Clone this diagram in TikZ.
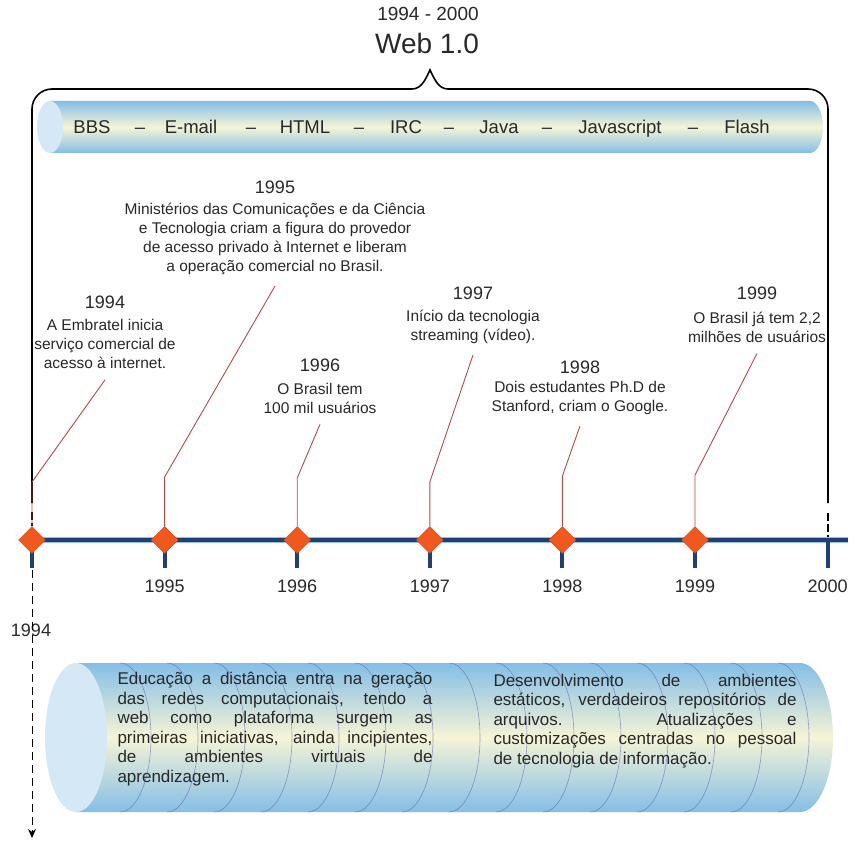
\documentclass[tikz,border=0pt]{standalone}
\usepackage{fontspec}
\setmainfont{Liberation Sans}
\usetikzlibrary{shapes.geometric,arrows.meta}
\definecolor{navy}{RGB}{31,63,119}
\definecolor{axisedge}{RGB}{150,190,228}
\definecolor{markorange}{RGB}{240,88,30}
\definecolor{leadred}{RGB}{185,72,72}
\definecolor{pipeblue}{RGB}{132,190,230}
\definecolor{pipecream}{RGB}{246,244,214}
\definecolor{pipecap}{RGB}{212,232,245}
\definecolor{txt}{RGB}{40,40,40}
\tolerance=10000
\begin{document}
\begin{tikzpicture}[x=1pt,y=-1pt,
  yearlbl/.style={text=txt,font=\fontsize{18}{21}\selectfont,inner sep=0pt},
  evtext/.style={text=txt,font=\fontsize{15.5}{19}\selectfont,align=center,inner sep=0pt},
  bartext/.style={text=txt,font=\fontsize{18.5}{22}\selectfont,inner sep=0pt,anchor=base},
  cyltext/.style={text=txt,font=\fontsize{17}{19.5}\selectfont,align=justify,inner sep=0pt},
  yearmark/.style={diamond,fill=markorange,draw=markorange!85!black,minimum size=27pt,inner sep=0pt},
  leader/.style={draw=leadred,line width=0.9pt},
  yeartick/.style={navy,line width=4pt},
  ring/.style={draw=gray!70!blue,opacity=0.55,line width=0.6pt},
  pipe/.style={top color=pipeblue,bottom color=pipeblue,middle color=pipecream}]
  \useasboundingbox (0,0) rectangle (848,850);

  % header and brace
  \node[text=txt,font=\fontsize{19}{22}\selectfont] (period) at (428,14) {1994 - 2000};
  \node[text=txt,font=\fontsize{28}{32}\selectfont] (web) at (427,43) {Web 1.0};
  \draw[line width=1.6pt] (32,503) -- (32,109) arc[start angle=180,end angle=270,radius=20] -- (412,89)
    .. controls (422,89) and (426,78) .. (430,70) .. controls (434,78) and (438,89) .. (448,89)
    -- (808,89) arc[start angle=-90,end angle=0,radius=20] -- (828,503);
  \draw[line width=1.4pt,dash pattern=on 8pt off 3pt] (32,512) -- (32,526);
  \draw[line width=1.4pt,dash pattern=on 8pt off 3pt] (828,513) -- (828,540);

  % technologies bar
  \shade[pipe] (50,101) -- (810,101) arc[start angle=-90,end angle=90,x radius=13,y radius=26] -- (50,153) -- cycle;
  \fill[pipecap] (50,127) ellipse[x radius=13,y radius=26];
  \foreach \x/\w [count=\i] in {92/BBS,140/–,191/E-mail,251/–,305/HTML,359/–,406/IRC,449/–,499/Java,547/–,620/Javascript,693/–,747/Flash}
    \node[bartext] (item\i) at (\x,133.5) {\w};

  % events
  \node[yearlbl] (y1994) at (105,302) {1994};
  \node[evtext] (t1994) at (105,344) {A Embratel inicia\\serviço comercial de\\acesso à internet.};
  \node[yearlbl] (y1995) at (275,187) {1995};
  \node[evtext] (t1995) at (275,239) {Ministérios das Comunicações e da Ciência\\e Tecnologia criam a figura do provedor\\de acesso privado à Internet e liberam\\a operação comercial no Brasil.};
  \node[yearlbl] (y1996) at (320,365) {1996};
  \node[evtext] (t1996) at (320,398) {O Brasil tem\\100 mil usuários};
  \node[yearlbl] (y1997) at (473,293) {1997};
  \node[evtext] (t1997) at (473,327) {Início da tecnologia\\streaming (vídeo).};
  \node[yearlbl] (y1998) at (580,367) {1998};
  \node[evtext] (t1998) at (580,398) {Dois estudantes Ph.D de\\Stanford, criam o Google.};
  \node[yearlbl] (y1999) at (757,293) {1999};
  \node[evtext] (t1999) at (757,327) {O Brasil já tem 2,2\\milhões de usuários};

  % time axis
  \draw[axisedge,line width=6.5pt] (32,540) -- (848,540);
  \draw[navy,line width=3.5pt] (32,540) -- (848,540);
  \foreach \i in {0,...,6}
    \draw[yeartick] (32+132.6*\i,540) -- (32+132.6*\i,568);
  \foreach \yr [count=\i from 0] in {1994,...,1999}
    \node[yearmark] (d\yr) at (32+132.6*\i,540) {};
  \foreach \yr [count=\i from 1] in {1995,...,2000}
    \node[yearlbl] (a\yr) at (32+132.6*\i,586) {\yr};
  \node[yearlbl] (a1994) at (31,630) {1994};
  \coordinate (now) at (32,838);
  \draw[line width=1pt,dash pattern=on 8pt off 5pt,-{Stealth[length=9pt,width=8pt]}] (32,570) -- (now);

  % leaders
  \coordinate (b1994) at (32,482);
  \coordinate (b1995) at (164.6,477);
  \coordinate (b1996) at (297.2,478);
  \coordinate (b1997) at (429.8,482);
  \coordinate (b1998) at (562.4,476);
  \coordinate (b1999) at (695,475);
  \foreach \yr in {1994,...,1999}
    \draw[leader] (d\yr.north) -- (b\yr) -- ([yshift=-11pt]t\yr.south);

  % cylinder
  \shade[pipe] (76,663) -- (800,663) arc[start angle=-90,end angle=90,x radius=33,y radius=74.5] -- (76,812) -- cycle;
  \foreach \x in {120,167,...,780}
    \draw[ring] (\x,663) arc[start angle=-90,end angle=90,x radius=31,y radius=74.5];
  \fill[pipecap] (76,737.5) ellipse[x radius=31,y radius=74.5];
  \node[cyltext,text width=315pt] (edu) at (275,729) {Educação a distância entra na geração\linebreak das redes computacionais, tendo a\linebreak web como plataforma surgem as\linebreak primeiras iniciativas, ainda incipientes,\linebreak de ambientes virtuais de\linebreak aprendizagem.};
  \node[cyltext,text width=303pt] (dev) at (645,721) {Desenvolvimento de ambientes\linebreak estáticos, verdadeiros repositórios de\linebreak arquivos. Atualizações e\linebreak customizações centradas no pessoal\linebreak de tecnologia de informação.};
\end{tikzpicture}
\end{document}
